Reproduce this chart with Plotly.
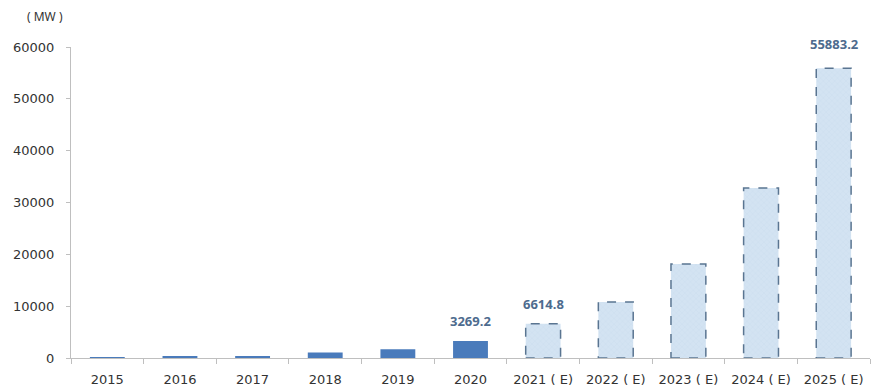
import plotly.graph_objects as go

categories = ["2015", "2016", "2017", "2018", "2019", "2020",
              "2021 ( E)", "2022 ( E)", "2023 ( E)", "2024 ( E)", "2025 ( E)"]
actual_values = [140, 270, 390, 1070, 1710, 3269.2, None, None, None, None, None]
forecast_values = [None, None, None, None, None, None, 6614.8, 10800, 18150, 32800, 55883.2]
label_texts = ["", "", "", "", "", "3269.2", "6614.8", "", "", "", "55883.2"]
y_ticks = [0, 10000, 20000, 30000, 40000, 50000, 60000]
y_tick_text = ["0", "10000", "20000", "30000", "40000", "50000", "60000"]

BAR_W = 0.48
LABEL_FONT = dict(family="Noto Sans", size=13, color="#4d6b8e", weight="bold")
TICK_FONT = dict(family="DejaVu Sans", size=13, color="#333333")
fig = go.Figure()

fig.add_trace(go.Bar(
    x=categories, y=actual_values, width=BAR_W,
    marker=dict(color="#4a7bbb", line=dict(width=0)),
    showlegend=False, hoverinfo="x+y",
))
fig.add_trace(go.Bar(
    x=categories, y=forecast_values, width=BAR_W,
    marker=dict(color="#d3e3f2", line=dict(width=0),
                pattern=dict(shape="x", fgcolor="#c2d6ea", size=4, solidity=0.2)),
    showlegend=False, hoverinfo="x+y",
))

# dashed outlines for forecast bars
for i, v in enumerate(forecast_values):
    if v is None:
        continue
    fig.add_shape(type="rect", xref="x", yref="y",
                  x0=i - BAR_W / 2, x1=i + BAR_W / 2, y0=0, y1=v,
                  line=dict(color="#5a7591", width=1.5, dash="dash"),
                  fillcolor="rgba(0,0,0,0)")

annotations = []
for i, t in enumerate(label_texts):
    if not t:
        continue
    v = actual_values[i] if actual_values[i] is not None else forecast_values[i]
    annotations.append(dict(text=t, x=i, y=v, xref="x", yref="y",
                            yanchor="bottom", yshift=9 if i < 10 else 13,
                            showarrow=False, font=LABEL_FONT))
annotations.append(dict(text="( MW )", xref="paper", yref="paper", x=0, y=1.0,
                        xshift=-26, yshift=20, xanchor="center", yanchor="bottom",
                        showarrow=False, font=dict(family="Noto Sans", size=12, color="#333333")))

fig.update_layout(
    width=873, height=392,
    margin=dict(l=71, r=3, t=47, b=34),
    plot_bgcolor="white", paper_bgcolor="white",
    barmode="overlay",
    font=dict(family="DejaVu Sans", size=13, color="#333333"),
    xaxis=dict(type="category", showline=True, linecolor="#bfbfbf", linewidth=1,
               ticks="outside", tickson="boundaries", ticklen=5, tickcolor="#bfbfbf",
               showgrid=False, tickfont=TICK_FONT,
               ticklabelstandoff=9, range=[-0.5, 10.5]),
    yaxis=dict(range=[0, 60000], tickvals=y_ticks, ticktext=y_tick_text,
               showline=True, linecolor="#bfbfbf",
               linewidth=1, ticks="outside", ticklen=4, tickcolor="#bfbfbf",
               showgrid=False, zeroline=False, tickfont=TICK_FONT,
               ticklabelstandoff=9),
    annotations=annotations,
)

fig.write_html("out.html")
